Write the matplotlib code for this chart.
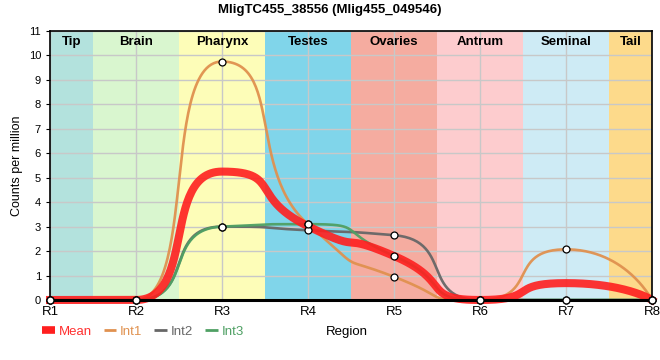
import numpy as np
import matplotlib.pyplot as plt

plt.rcParams['font.family'] = ['Liberation Sans', 'DejaVu Sans']

regions = ['R1', 'R2', 'R3', 'R4', 'R5', 'R6', 'R7', 'R8']
int1 = [0, 0, 9.75, 3.1, 0.95, 0, 2.07, 0]
int2 = [0, 0, 3.0, 2.85, 2.65, 0, 0, 0]
int3 = [0, 0, 3.0, 3.1, 1.8, 0, 0, 0]
mean = list(np.mean([int1, int2, int3], axis=0))

tissues = ['Tip', 'Brain', 'Pharynx', 'Testes', 'Ovaries', 'Antrum', 'Seminal', 'Tail']
tissue_bounds = [(0, 0.5), (0.5, 1.5), (1.5, 2.5), (2.5, 3.5), (3.5, 4.5),
                 (4.5, 5.5), (5.5, 6.5), (6.5, 7)]
tissue_colors = ['#b3e2dd', '#d9f6cf', '#fdfdb8', '#80d5ea', '#f5aca0',
                 '#fdccce', '#ceebf5', '#fdda8b']


def spline(y, a=0.7, n=60):
    # bezier spline through the points, handles a*gap long, flat at extremes
    y = np.asarray(y, float)
    k = len(y)
    lc = y.copy()
    rc = y.copy()
    for i in range(1, k - 1):
        last, p, nxt = y[i - 1], y[i], y[i + 1]
        l = p + a * (last - p)
        r = p + a * (nxt - p)
        corr = p - (l + r) / 2
        l += corr
        r += corr
        if l > last and l > p:
            l = max(last, p)
            r = 2 * p - l
        elif l < last and l < p:
            l = min(last, p)
            r = 2 * p - l
        if r > nxt and r > p:
            r = max(nxt, p)
            l = 2 * p - r
        elif r < nxt and r < p:
            r = min(nxt, p)
            l = 2 * p - r
        lc[i], rc[i] = l, r
    xs, ys = [], []
    t = np.linspace(0, 1, n, endpoint=False)
    for i in range(k - 1):
        x0, x1, x2, x3 = i, i + a, i + 1 - a, i + 1
        if i == 0:
            x1 = i
        if i == k - 2:
            x2 = i + 1
        y0, y1, y2, y3 = y[i], rc[i], lc[i + 1], y[i + 1]
        b0 = (1 - t)**3
        b1 = 3 * (1 - t)**2 * t
        b2 = 3 * (1 - t) * t**2
        b3 = t**3
        xs.append(b0 * x0 + b1 * x1 + b2 * x2 + b3 * x3)
        ys.append(b0 * y0 + b1 * y1 + b2 * y2 + b3 * y3)
    xs.append([k - 1])
    ys.append([y[-1]])
    return np.concatenate(xs), np.concatenate(ys)


fig = plt.figure(figsize=(6.6, 3.6), dpi=100)
ax = fig.add_axes([0.0758, 0.1667, 0.912, 0.7473])

for name, (a, b), c in zip(tissues, tissue_bounds, tissue_colors):
    ax.axvspan(a, b, color=c, zorder=0, lw=0)
    ax.text((a + b) / 2, 10.55, name, ha='center', va='center',
            fontsize=9.5, fontweight='bold', zorder=5)

ax.set_xlim(0, 7)
ax.set_ylim(0, 11)
ax.set_xticks(range(8))
ax.set_xticklabels(regions, fontsize=9.5)
ax.set_yticks(range(12))
ax.tick_params(axis='y', labelsize=8, length=3)
ax.tick_params(axis='x', length=0, pad=4)
ax.grid(True, color='#c8c8c8', lw=1, zorder=1)
ax.set_axisbelow(False)
for sp in ax.spines.values():
    sp.set_zorder(6)
    sp.set_linewidth(1.2)
ax.spines['bottom'].set_linewidth(2.2)
ax.set_ylabel('Counts per million', fontsize=9, labelpad=4)

series = [(int1, '#e0914f', 'Int1'), (int2, '#676767', 'Int2'), (int3, '#4fa064', 'Int3')]
for vals, c, lab in series:
    x, y = spline(vals)
    ax.plot(x, y, color=c, lw=1.9, zorder=3, clip_on=False, alpha=0.95)
x, y = spline(mean)
ax.plot(x, y, color='#ff1f1f', lw=5.8, zorder=4, alpha=0.9, clip_on=False)
for vals, c, lab in series:
    ax.plot(range(8), vals, ls='none', marker='o', ms=5, mfc='white',
            mec='black', mew=0.9, zorder=7, clip_on=False)

fig.suptitle('MligTC455_38556 (Mlig455_049546)', x=0.5, y=0.99,
             fontsize=9.5, fontweight='bold')

handles = [plt.Line2D([], [], color='#ff1f1f', lw=5.5, solid_capstyle='butt'),
           plt.Line2D([], [], color='#e0914f', lw=2, solid_capstyle='butt'),
           plt.Line2D([], [], color='#676767', lw=2, solid_capstyle='butt'),
           plt.Line2D([], [], color='#4fa064', lw=2, solid_capstyle='butt')]
leg = fig.legend(handles, ['Mean', 'Int1', 'Int2', 'Int3'], loc='center left',
                 bbox_to_anchor=(0.064, 0.078), ncol=4, frameon=False, fontsize=9.5,
                 handlelength=0.95, handletextpad=0.3, columnspacing=0.9,
                 borderpad=0, borderaxespad=0)
for t, c in zip(leg.get_texts(), ['#ff3030', '#e0914f', '#676767', '#4fa064']):
    t.set_color(c)
fig.text(0.525, 0.078, 'Region', ha='center', va='center', fontsize=9.5)

fig.savefig('out.png', dpi=100)
